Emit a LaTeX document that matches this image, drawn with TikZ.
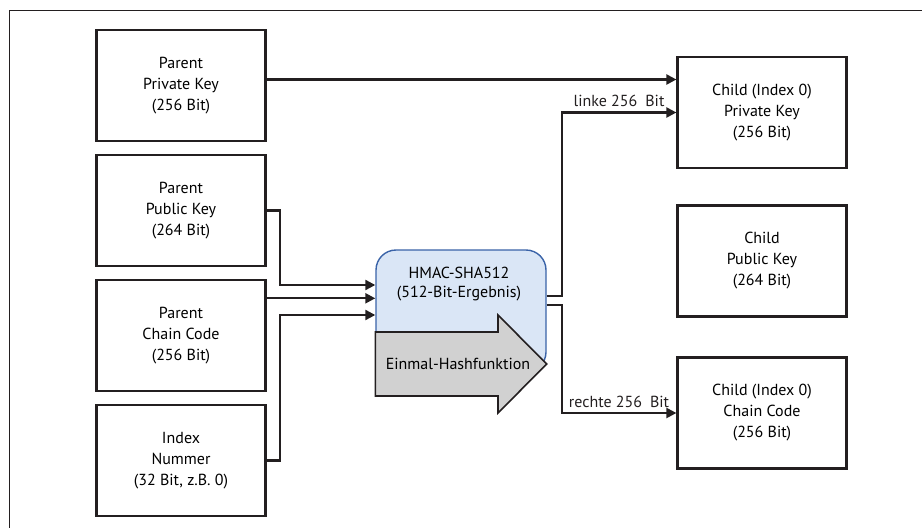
\documentclass[tikz,border=0pt]{standalone}
\usepackage{fontspec}
\setmainfont{PT Sans}
\usepackage{xcolor}
\usepackage{tikz}
\usetikzlibrary{arrows.meta,positioning,calc}
\definecolor{linecol}{HTML}{231F20}
\definecolor{hashfill}{HTML}{DAE6F6}
\definecolor{hashborder}{HTML}{3A63A8}
\definecolor{arrowfill}{HTML}{D1D1D1}

\begin{document}
\begin{tikzpicture}[
  x=1pt, y=-1pt,
  keybox/.style={draw=linecol, line width=2.2pt, minimum width=169pt, minimum height=111pt, align=center, font=\fontsize{16}{21}\selectfont},
  hashbox/.style={draw=hashborder, line width=1.4pt, fill=hashfill, rounded corners=20pt, minimum width=170pt, minimum height=122pt},
  hasharrow/.style={draw=linecol, line width=1.6pt, fill=arrowfill},
  lbl/.style={font=\fontsize{16}{19}\selectfont, align=center},
  arr/.style={-{Triangle[length=10pt,width=10pt]}, line width=2.2pt, linecol}
]
  \useasboundingbox (0,0) rectangle (922,528);
  % frame
  \draw[linecol, line width=1.3pt] (9.5,528) -- (9.5,10.5) -- (922,10.5);

  % parent side
  \node[keybox] at (181,85.5) (ppriv) {Parent\\Private Key\\(256 Bit)};
  \node[keybox, below=11.8pt of ppriv] (ppub)   {Parent\\Public Key\\(264 Bit)};
  \node[keybox, below=11.8pt of ppub]  (pchain) {Parent\\Chain Code\\(256 Bit)};
  \node[keybox, below=11.8pt of pchain] (pidx)  {Index\\Nummer\\(32 Bit, z.B. 0)};

  % child side
  \node[keybox] at (762,112.5) (cpriv) {Child (Index 0)\\Private Key\\(256 Bit)};
  \node[keybox] at (762,261)   (cpub)  {Child\\Public Key\\(264 Bit)};
  \node[keybox] at (762,413)   (cchain) {Child (Index 0)\\Chain Code\\(256 Bit)};

  % hash function
  \node[hashbox] at (461,311) (hmac) {};
  \node[lbl] at (459,284) (hmaclbl) {HMAC-SHA512\\(512-Bit-Ergebnis)};
  \draw[hasharrow] (hmac.west |- 0,332) -- (498,332) -- (498,315) -- (hmac.east |- 0,364)
    -- (498,413) -- (498,396) -- (hmac.west |- 0,396) -- cycle;
  \node[lbl] at (458,364) (onewaylbl) {Einmal-Hashfunktion};

  \draw[arr] ([yshift=6pt]ppriv.east) -- ([yshift=6pt]ppriv.east -| cpriv.west);
  \draw[arr] (ppub.east) -- ++(13pt,0) |- ([yshift=26pt]hmac.west);
  \draw[arr] ([yshift=12.7pt]hmac.west -| pchain.east) -- ([yshift=12.7pt]hmac.west);
  \draw[arr] (pidx.east) -- ++(13pt,0) |- ([yshift=-4pt]hmac.west);
  \draw[arr] ([yshift=15pt]hmac.east) -- ++(15pt,0) |- node[lbl, pos=0.75, above=1pt] {linke 256\enspace Bit} (cpriv.west);
  \draw[arr] ([yshift=6pt]hmac.east) -- ++(15pt,0) |- node[lbl, pos=0.75, above=1pt] {rechte 256\enspace Bit} (cchain.west);
\end{tikzpicture}
\end{document}
